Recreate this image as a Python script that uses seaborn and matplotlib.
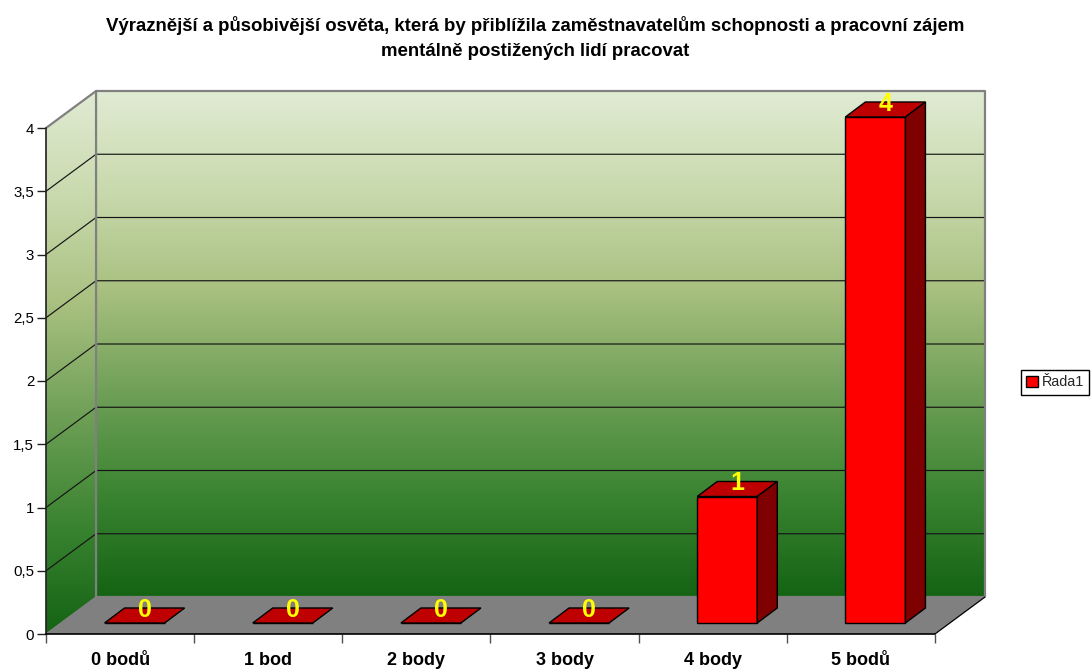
import numpy as np
import pandas as pd
import seaborn as sns
import matplotlib
matplotlib.use('Agg')
import matplotlib.pyplot as plt
from matplotlib.colors import LinearSegmentedColormap
from matplotlib.patches import Polygon, Patch

categories = ['0 bodů', '1 bod', '2 body', '3 body', '4 body', '5 bodů']
values = [0, 0, 0, 0, 1, 4]
series_name = 'Řada1'
y_ticks = [0, 0.5, 1, 1.5, 2, 2.5, 3, 3.5, 4]
y_tick_labels = ['0', '0,5', '1', '1,5', '2', '2,5', '3', '3,5', '4']
title = ('Výraznější a působivější osvěta, která by přiblížila zaměstnavatelům schopnosti a pracovní zájem\n'
         'mentálně postižených lidí pracovat')

sns.set_theme(style='white')
plt.rcParams['font.family'] = ['Liberation Sans', 'DejaVu Sans']

W, H = 1091, 670
px_x = 148.0      # pixels per category
px_y = 126.5      # pixels per unit
wall_dx, wall_dy = 50 / px_x, 37 / px_y
bar_dx, bar_dy = 20 / px_x, 15 / px_y
shift_x, shift_y = 14.5 / px_x, 11 / px_y
left, right = -0.5, 5.5

fig = plt.figure(figsize=(W / 100, H / 100), dpi=100)
ax = fig.add_axes([46 / W, 36 / H, 939 / W, 543 / H])

df = pd.DataFrame({'category': categories, 'value': values})
sns.barplot(data=df, x='category', y='value', color='#ff0000', saturation=1,
            width=60 / px_x, edgecolor='black', linewidth=1.0, zorder=4, ax=ax)
bars = list(ax.patches)
ax.set_xlabel('')
ax.set_ylabel('')
sns.despine(ax=ax, left=True, bottom=True)

# walls
grad = LinearSegmentedColormap.from_list('wall', ['#e0ebd3', '#c8d9ac', '#a7bf7e', '#6e9f56', '#3a8431', '#146414'])
ramp = np.linspace(0, 1, 256).reshape(-1, 1)

back = Polygon([(left + wall_dx, wall_dy), (right + wall_dx, wall_dy), (right + wall_dx, 4 + wall_dy),
                (left + wall_dx, 4 + wall_dy)], transform=ax.transData)
im = ax.imshow(ramp, cmap=grad, aspect='auto', zorder=0,
               extent=(left + wall_dx, right + wall_dx, wall_dy, 4 + wall_dy))
im.set_clip_path(back)

side = Polygon([(left, 0), (left + wall_dx, wall_dy), (left + wall_dx, 4 + wall_dy), (left, 4)],
               transform=ax.transData)
im2 = ax.imshow(ramp, cmap=grad, aspect='auto', zorder=0,
                extent=(left, left + wall_dx, 0, 4 + wall_dy))
im2.set_clip_path(side)

ax.set_xlim(left, right + wall_dx)
ax.set_ylim(0, 4 + wall_dy)

ax.add_patch(Polygon([(left, 0), (right, 0), (right + wall_dx, wall_dy), (left + wall_dx, wall_dy)],
                     facecolor='#808080', edgecolor='none', zorder=1))

# gridlines on both walls
for t in y_ticks[1:-1]:
    ax.plot([left, left + wall_dx, right + wall_dx], [t, t + wall_dy, t + wall_dy],
            color='#151515', lw=0.85, zorder=1, clip_on=False)

# wall outline
gray = dict(color='#808080', lw=1.6, zorder=1.5, clip_on=False)
ax.plot([left, left + wall_dx, right + wall_dx, right + wall_dx, left + wall_dx, left + wall_dx],
        [4, 4 + wall_dy, 4 + wall_dy, wall_dy, wall_dy, 4 + wall_dy], **gray)
ax.plot([left, left + wall_dx], [0, wall_dy], color='#808080', lw=1.0, zorder=1.5)
ax.plot([right, right + wall_dx], [0, wall_dy], color='black', lw=0.9, zorder=1.5)

# axis lines
ax.plot([left, left], [0, 4], color='#202020', lw=1.2, zorder=5, clip_on=False)
ax.plot([left, right], [0, 0], color='black', lw=1.2, zorder=5, clip_on=False)

# 3d bars built from the seaborn patches
for patch, val in zip(bars, values):
    patch.set_x(patch.get_x() + shift_x)
    patch.set_y(shift_y)
    x0 = patch.get_x()
    x1 = x0 + patch.get_width()
    top = shift_y + val
    ax.add_patch(Polygon([(x0, top), (x1, top), (x1 + bar_dx, top + bar_dy), (x0 + bar_dx, top + bar_dy)],
                         facecolor='#bf0000', edgecolor='black', lw=1.0, zorder=4))
    if val > 0:
        ax.add_patch(Polygon([(x1, shift_y), (x1 + bar_dx, shift_y + bar_dy), (x1 + bar_dx, top + bar_dy), (x1, top)],
                             facecolor='#7f0000', edgecolor='black', lw=1.0, zorder=4))
    ax.annotate(str(val), xy=((x0 + x1) / 2, top), xytext=(10, 13), textcoords='offset pixels',
                ha='center', va='center', color='#ffff00', fontsize=18, fontweight='bold', zorder=6,
                annotation_clip=False)

# ticks
ax.set_yticks(y_ticks)
ax.set_yticklabels(y_tick_labels, fontsize=10.8, color='black')
ax.set_xticks(np.arange(left, right + 1))
ax.set_xticklabels([])
ax.set_xticks(np.arange(len(categories)), labels=categories, minor=True, fontsize=13, fontweight='bold', color='black')
ax.tick_params(axis='y', which='major', left=True, length=6.5, width=1.0, color='#202020', pad=2)
ax.tick_params(axis='x', which='major', bottom=True, length=6.5, width=1.0, color='#505050')
ax.tick_params(axis='x', which='minor', bottom=False, length=0, pad=13)

fig.text(535.5 / W, 1 - 16 / H, title, ha='center', va='top', fontsize=13.45, fontweight='bold',
         linespacing=1.6, color='black')

ax.legend(handles=[Patch(facecolor='#ff0000', edgecolor='black', linewidth=1.0, label=series_name)],
          loc='center left', bbox_to_anchor=(1021 / W, 1 - 382.5 / H), bbox_transform=fig.transFigure,
          fontsize=10.4, frameon=True, fancybox=False, edgecolor='black', framealpha=1, borderaxespad=0,
          handlelength=0.85, handleheight=0.85, handletextpad=0.25, borderpad=0.35)

fig.savefig('out.png', dpi=100)
